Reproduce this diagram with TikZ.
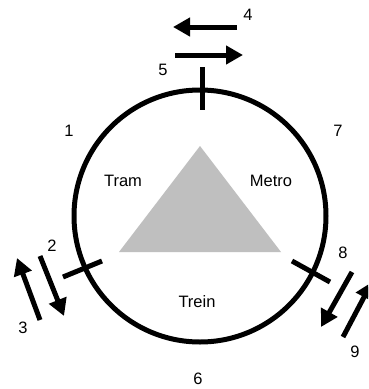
\documentclass[tikz,border=0pt]{standalone}
\usepackage{fontspec}
\setmainfont{Liberation Sans}
\usetikzlibrary{arrows.meta}
\begin{document}
\begin{tikzpicture}[x=1pt,y=-1pt,
  lbl/.style={font=\fontsize{16.5}{19}\selectfont, inner sep=0pt},
  ring/.style={draw=black, line width=5pt, circle, minimum size=252pt, inner sep=0pt},
  tick/.style={line width=5pt},
  flow/.style={line width=5pt, -{Triangle[length=17pt,width=18pt]}}]
\useasboundingbox (0,0) rectangle (368,389);
\clip (0,0) rectangle (368,389);
\fill[white] (0,0) rectangle (368,389);
% triangle
\fill[black!25] (200,146) -- (281,252) -- (119,252) -- cycle;
% ring
\node[ring] (ring) at (200,216) {};
% ticks
\draw[tick] (202,67) -- (202,110);
\draw[tick] (63,277) -- (102,261);
\draw[tick] (292,261) -- (330,282);
% coordinates for arrows
\coordinate (a4s) at (237,27); \coordinate (a4e) at (173,27);
\coordinate (a5s) at (175,55); \coordinate (a5e) at (243,55);
\coordinate (a2s) at (40,256); \coordinate (a2e) at (64,316);
\coordinate (a3s) at (40,320); \coordinate (a3e) at (17,258);
\coordinate (a8s) at (352,272); \coordinate (a8e) at (321,327);
\coordinate (a9s) at (343,337); \coordinate (a9e) at (372,282);
\draw[flow] (a4s) -- (a4e);
\draw[flow] (a5s) -- (a5e);
\draw[flow] (a2s) -- (a2e);
\draw[flow] (a3s) -- (a3e);
\draw[flow] (a8s) -- (a8e);
\draw[flow] (a9s) -- (a9e);
% labels
\node[lbl] (tram) at (123,181) {Tram};
\node[lbl] (metro) at (271,181) {Metro};
\node[lbl] (trein) at (197,302) {Trein};
\node[lbl] (n1) at (69,131) {1};
\node[lbl] (n2) at (52,246) {2};
\node[lbl] (n3) at (23,328) {3};
\node[lbl] (n4) at (248,15) {4};
\node[lbl] (n5) at (163,70) {5};
\node[lbl] (n6) at (198,379) {6};
\node[lbl] (n7) at (338,131) {7};
\node[lbl] (n8) at (343,253) {8};
\node[lbl] (n9) at (355,352) {9};
\end{tikzpicture}
\end{document}
